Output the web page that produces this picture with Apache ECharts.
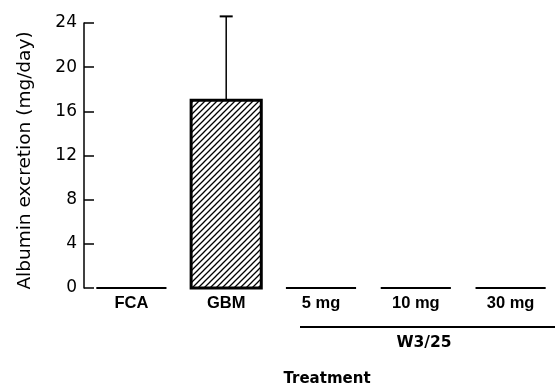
<!DOCTYPE html>
<html>
<head>
<meta charset="utf-8">
<script src="https://cdn.jsdelivr.net/npm/echarts@6/dist/echarts.min.js"></script>
<style>html,body{margin:0;padding:0;background:#fff}#c{width:558px;height:389px}</style>
</head>
<body>
<div id="c"></div>
<script>
const categories = ['FCA', 'GBM', '5 mg', '10 mg', '30 mg'];
const albumin = [0, 17.0, 0, 0, 0];
const errorTop = [0, 24.6, 0, 0, 0];
const yTicks = [0, 4, 8, 12, 16, 20, 24];
const groupLabel = 'W3/25';
const xTitle = 'Treatment';
const yTitle = 'Albumin excretion (mg/day)';

const DJ = '"DejaVu Sans", "Liberation Sans", sans-serif';
const LB = '"Liberation Sans", Arial, sans-serif';

// hatch pattern
const pc = document.createElement('canvas');
pc.width = 6; pc.height = 6;
const g = pc.getContext('2d');
g.fillStyle = '#fff'; g.fillRect(0, 0, 6, 6);
g.strokeStyle = '#000'; g.lineWidth = 1.3;
g.beginPath();
g.moveTo(0, 6); g.lineTo(6, 0);
g.moveTo(-1, 1); g.lineTo(1, -1);
g.moveTo(5, 7); g.lineTo(7, 5);
g.stroke();

const chart = echarts.init(document.getElementById('c'), null, {renderer: 'canvas'});

const data = categories.map((c, i) => [i, albumin[i], errorTop[i]]);

chart.setOption({
  animation: false,
  backgroundColor: '#fff',
  grid: {left: 84, right: -12, top: 23, bottom: 101, containLabel: false},
  xAxis: {
    type: 'category',
    data: categories,
    axisLine: {show: false},
    axisTick: {show: false},
    axisLabel: {color: '#000', fontSize: 16.5, fontWeight: 'bold', fontFamily: LB, margin: 7}
  },
  yAxis: {
    type: 'value',
    min: yTicks[0], max: yTicks[yTicks.length - 1], interval: yTicks[1] - yTicks[0],
    name: yTitle,
    nameLocation: 'middle',
    nameGap: 49,
    nameTextStyle: {color: '#000', fontSize: 18.5, fontFamily: DJ, padding: [0, 10, 0, 0]},
    axisLine: {show: true, lineStyle: {color: '#000', width: 1.5}},
    axisTick: {show: true, inside: true, length: 10, lineStyle: {color: '#000', width: 1.5}},
    axisLabel: {color: '#000', fontSize: 17, fontFamily: DJ, margin: 7},
    splitLine: {show: false}
  },
  series: [{
    type: 'custom',
    data: data,
    clip: false,
    renderItem: function (params, api) {
      const x = api.value(0), v = api.value(1), e = api.value(2);
      const base = api.coord([x, 0]);
      const top = api.coord([x, v]);
      const w = api.size([1, 0])[0] * 0.74;
      const children = [];
      if (v > 0) {
        children.push({
          type: 'rect',
          shape: {x: base[0] - w / 2, y: top[1], width: w, height: base[1] - top[1]},
          style: {fill: {image: pc, repeat: 'repeat'}, stroke: '#000', lineWidth: 3}
        });
      } else {
        children.push({
          type: 'line',
          shape: {x1: base[0] - w / 2, y1: base[1], x2: base[0] + w / 2, y2: base[1]},
          style: {stroke: '#000', lineWidth: 2}
        });
      }
      if (e > v) {
        const et = api.coord([x, e]);
        children.push({
          type: 'line',
          shape: {x1: top[0], y1: top[1], x2: et[0], y2: et[1]},
          style: {stroke: '#000', lineWidth: 1.5}
        });
        children.push({
          type: 'line',
          shape: {x1: et[0] - 6.5, y1: et[1], x2: et[0] + 6.5, y2: et[1]},
          style: {stroke: '#000', lineWidth: 2}
        });
      }
      return {type: 'group', children: children};
    }
  }],
  graphic: [
    {type: 'line', shape: {x1: 300, y1: 327, x2: 555, y2: 327}, style: {stroke: '#000', lineWidth: 2}},
    {type: 'text', x: 424, y: 343, style: {text: groupLabel, fill: '#000', font: 'bold 15.5px ' + DJ, textAlign: 'center', textVerticalAlign: 'middle'}},
    {type: 'text', x: 327, y: 379, style: {text: xTitle, fill: '#000', font: 'bold 15px ' + DJ, textAlign: 'center', textVerticalAlign: 'middle'}}
  ]
});
</script>
</body>
</html>
